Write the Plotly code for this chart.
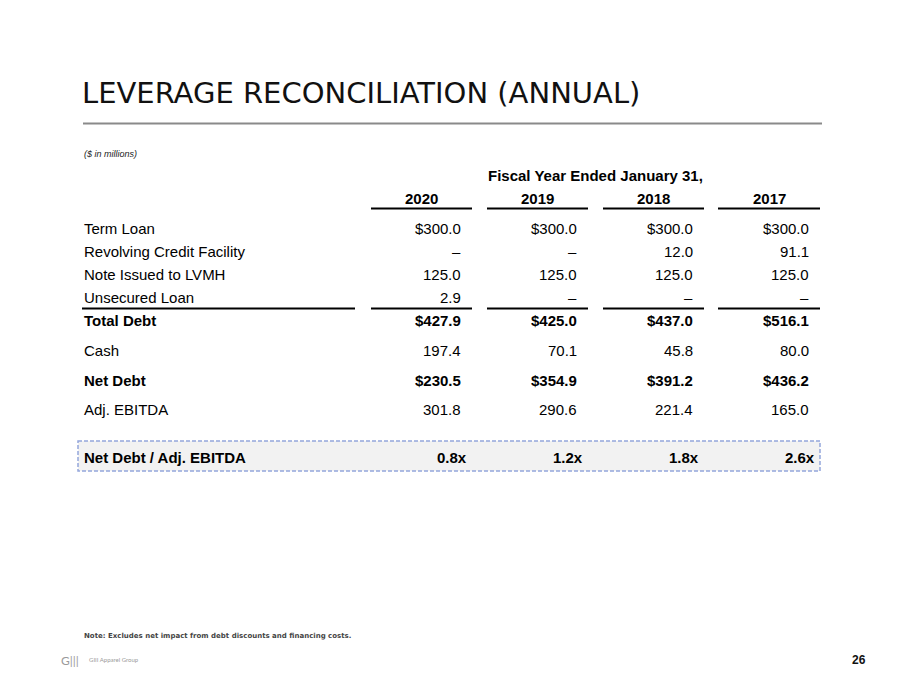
import plotly.graph_objects as go

# ---- data ----
title = "LEVERAGE RECONCILIATION (ANNUAL)"
units = "($ in millions)"
header = "Fiscal Year Ended January 31,"
years = ["2020", "2019", "2018", "2017"]
row_labels = ["Term Loan", "Revolving Credit Facility", "Note Issued to LVMH", "Unsecured Loan",
              "Total Debt", "Cash", "Net Debt", "Adj. EBITDA", "Net Debt / Adj. EBITDA"]
fy2020 = [300.0, None, 125.0, 2.9, 427.9, 197.4, 230.5, 301.8, 0.8]
fy2019 = [300.0, None, 125.0, None, 425.0, 70.1, 354.9, 290.6, 1.2]
fy2018 = [300.0, 12.0, 125.0, None, 437.0, 45.8, 391.2, 221.4, 1.8]
fy2017 = [300.0, 91.1, 125.0, None, 516.1, 80.0, 436.2, 165.0, 2.6]
bold_rows = ["Total Debt", "Net Debt", "Net Debt / Adj. EBITDA"]
dollar_rows = ["Term Loan", "Total Debt", "Net Debt"]
ratio_rows = ["Net Debt / Adj. EBITDA"]
note = "Note: Excludes net impact from debt discounts and financing costs."
company = "GIII Apparel Group"
page = "26"

# ---- layout (page pixel coordinates; page has an 8px body margin) ----
W, H = 900, 695
OFF = 8
FONT = "Liberation Sans, Arial, sans-serif"
val_right = [463, 579, 695, 811]
line_left = [371, 487, 603, 718]
line_right = [472, 588, 704, 820]
row_y = [228, 251, 274, 297, 320, 350, 380, 409, 457]
label_x = 82

fig = go.Figure()
ann = []
shapes = []

def txt(x, y, s, size=15, bold=False, xanchor="left", color="#000000", family=FONT, italic=False):
    if bold:
        s = "<b>" + s + "</b>"
    if italic:
        s = "<i>" + s + "</i>"
    ann.append(dict(x=x, y=y, xref="x", yref="y", text=s, showarrow=False,
                    xanchor=xanchor, yanchor="middle",
                    font=dict(size=size, color=color, family=family)))

def hline(x0, x1, y, color="#000000", width=2):
    shapes.append(dict(type="line", xref="x", yref="y", x0=x0, x1=x1, y0=y, y1=y,
                       line=dict(color=color, width=width)))

# title and rule
txt(80, 93, title, size=29, color="#111111", family="DejaVu Sans, sans-serif")
hline(83, 822, 123.5, color="#8a8a8a", width=2)
txt(label_x, 154, units, size=9, italic=True, color="#222222")

# highlight box
shapes.append(dict(type="rect", xref="x", yref="y", x0=78, x1=820, y0=441, y1=471,
                   fillcolor="#f2f2f2", line=dict(color="#94a6dc", width=1.5, dash="4px,2px"),
                   layer="below"))

# header
txt((line_left[1] + line_right[2]) / 2, 175, header, size=15, bold=True, xanchor="center")
for i, yr in enumerate(years):
    cx = (line_left[i] + line_right[i]) / 2
    txt(cx, 198, yr, size=15, bold=True, xanchor="center")
    hline(line_left[i], line_right[i], 208.5)

# separator before Total Debt
sep_y = 308.5
hline(label_x, 355, sep_y)
for i in range(4):
    hline(line_left[i], line_right[i], sep_y)

def fmt(v, label):
    if v is None:
        return "–"
    if label in ratio_rows:
        return f"{v:.1f}x"
    if label in dollar_rows:
        return f"${v:,.1f}"
    return f"{v:,.1f}"

cols = [fy2020, fy2019, fy2018, fy2017]
for r, label in enumerate(row_labels):
    b = label in bold_rows
    txt(label_x, row_y[r], label, size=15, bold=b)
    for c, series in enumerate(cols):
        xr = val_right[c] + (6 if label in ratio_rows else 0)
        txt(xr, row_y[r], fmt(series[r], label), size=15, bold=b, xanchor="right")

# footer
txt(82, 636, "<b>" + note + "</b>", size=7, color="#444444", family="DejaVu Sans, sans-serif")
txt(59, 660, "G|||", size=12, color="#9a9a9a", family="Lato, sans-serif")
txt(87, 659, company, size=6, color="#9a9a9a", family="Lato, sans-serif")
txt(868, 660, page, size=12, bold=True, xanchor="right", color="#111111")

fig.update_layout(
    width=W, height=H, margin=dict(l=0, r=0, t=0, b=0),
    paper_bgcolor="#ffffff", plot_bgcolor="#ffffff",
    xaxis=dict(range=[OFF, W + OFF], visible=False, fixedrange=True),
    yaxis=dict(range=[H + OFF, OFF], visible=False, fixedrange=True),
    annotations=ann, shapes=shapes, showlegend=False,
)
fig.write_html("out.html", config={"displayModeBar": False})
